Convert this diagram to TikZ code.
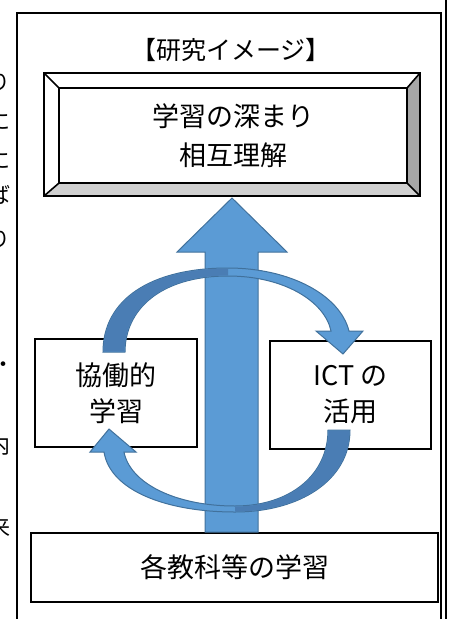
\documentclass[tikz,border=0pt]{standalone}
\usepackage{fontspec}
\newfontfamily\jp{Noto Sans CJK JP}
\usetikzlibrary{calc}
\definecolor{arrowfill}{HTML}{5B9BD5}
\definecolor{arrowline}{HTML}{41719C}
\definecolor{arrowdark}{HTML}{4A7DB4}
\definecolor{bevelright}{HTML}{A6A6A6}
\definecolor{bevelbottom}{HTML}{D0D0D0}
\begin{document}
\begin{tikzpicture}[x=1pt,y=-1pt,
  sidetext/.style={font=\jp\fontsize{22}{22}\selectfont, inner sep=0pt},
  labelbox/.style={draw=black, line width=2pt, fill=white, inner sep=0pt, align=center,
     font=\jp\fontsize{27}{36}\selectfont},
  fatarrow/.style={draw=arrowline, line width=1pt, fill=arrowfill, line join=miter},
  darkpart/.style={fill=arrowdark}]
\useasboundingbox (0,0) rectangle (449,619);
% clipped text of the neighbouring column
\node[sidetext] (s1) at (-1,82) {り};
\node[sidetext] (s2) at (-1,121) {に};
\node[sidetext] (s3) at (-1,160) {に};
\node[sidetext] (s4) at (-1,195) {ば};
\node[sidetext] (s5) at (-1,239) {り};
\node[sidetext] (s6) at (3,367) {・};
\node[sidetext] (s7) at (-1,445) {内};
\node[sidetext] (s8) at (-1,527) {来};
% frame
\draw[line width=2pt] (17,619) -- (17,13) -- (441,13) -- (441,619);
\draw[line width=1.5pt] (446,0) -- (446,619);
% title
\node[font=\jp\fontsize{25}{25}\selectfont, inner sep=0pt] (title) at (231,50) {【研究イメージ】};
% bevelled top box
\coordinate (o1) at (44,73);
\coordinate (o2) at (420,73);
\coordinate (o3) at (420,196);
\coordinate (o4) at (44,196);
\fill[white] (o1) rectangle (o3);
\node[inner sep=0pt, minimum width=348pt, minimum height=95pt, align=center,
      font=\jp\fontsize{27}{39}\selectfont] (deep) at (233,135.5) {学習の深まり\\相互理解};
\fill[bevelright] (o2) -- (o3) -- (deep.south east) -- (deep.north east) -- cycle;
\fill[bevelbottom] (o4) -- (o3) -- (deep.south east) -- (deep.south west) -- cycle;
\draw[line width=1.6pt] (deep.north west) rectangle (deep.south east);
\draw[line width=1.6pt] (o1) -- (deep.north west) (o2) -- (deep.north east)
   (o3) -- (deep.south east) (o4) -- (deep.south west);
\draw[line width=2.2pt] (o1) rectangle (o3);
% side boxes and base box
\node[labelbox, minimum width=162pt, minimum height=108pt] (coop) at (116,393) {協働的\\学習};
\node[labelbox, minimum width=161pt, minimum height=108pt] (ict) at (350.5,395) {ICT の\\活用};
\node[labelbox, minimum width=407pt, minimum height=69pt] (base) at (234.5,567.5) {各教科等の学習};
% big upward arrow
\draw[fatarrow] (205,532) -- (205,252) -- (177,252) -- (232,198) -- (287,252)
   -- (258,252) -- (258,532) -- cycle;
% upper curved arrow: coop -> ict
\draw[fatarrow] (103,352) .. controls (103,300) and (150,268) .. (228,268)
   .. controls (290,268) and (340,295) .. (349,331)
   -- (363,331) -- (343,354) -- (316,331) -- (331,331)
   .. controls (325,302) and (285,276) .. (228,276)
   .. controls (160,276) and (125,310) .. (125,352) -- cycle;
\fill[darkpart] (103.5,351.5) .. controls (103.5,300.5) and (150,268.5) .. (228,268.5)
   -- (228,275.5) .. controls (160,275.5) and (124.5,310) .. (124.5,351.5) -- cycle;
% lower curved arrow: ict -> coop
\draw[fatarrow] (350,430) .. controls (350,480) and (300,512) .. (235,512)
   .. controls (165,512) and (110,490) .. (104,452)
   -- (90,452) -- (109,429) -- (136,452) -- (124,452)
   .. controls (130,483) and (175,506) .. (235,506)
   .. controls (290,506) and (328,475) .. (328,430) -- cycle;
\fill[darkpart] (349.5,430.5) .. controls (349.5,480) and (300,511.5) .. (235,511.5)
   -- (235,506.5) .. controls (290,506.5) and (328.5,475) .. (328.5,430.5) -- cycle;
\end{tikzpicture}
\end{document}
